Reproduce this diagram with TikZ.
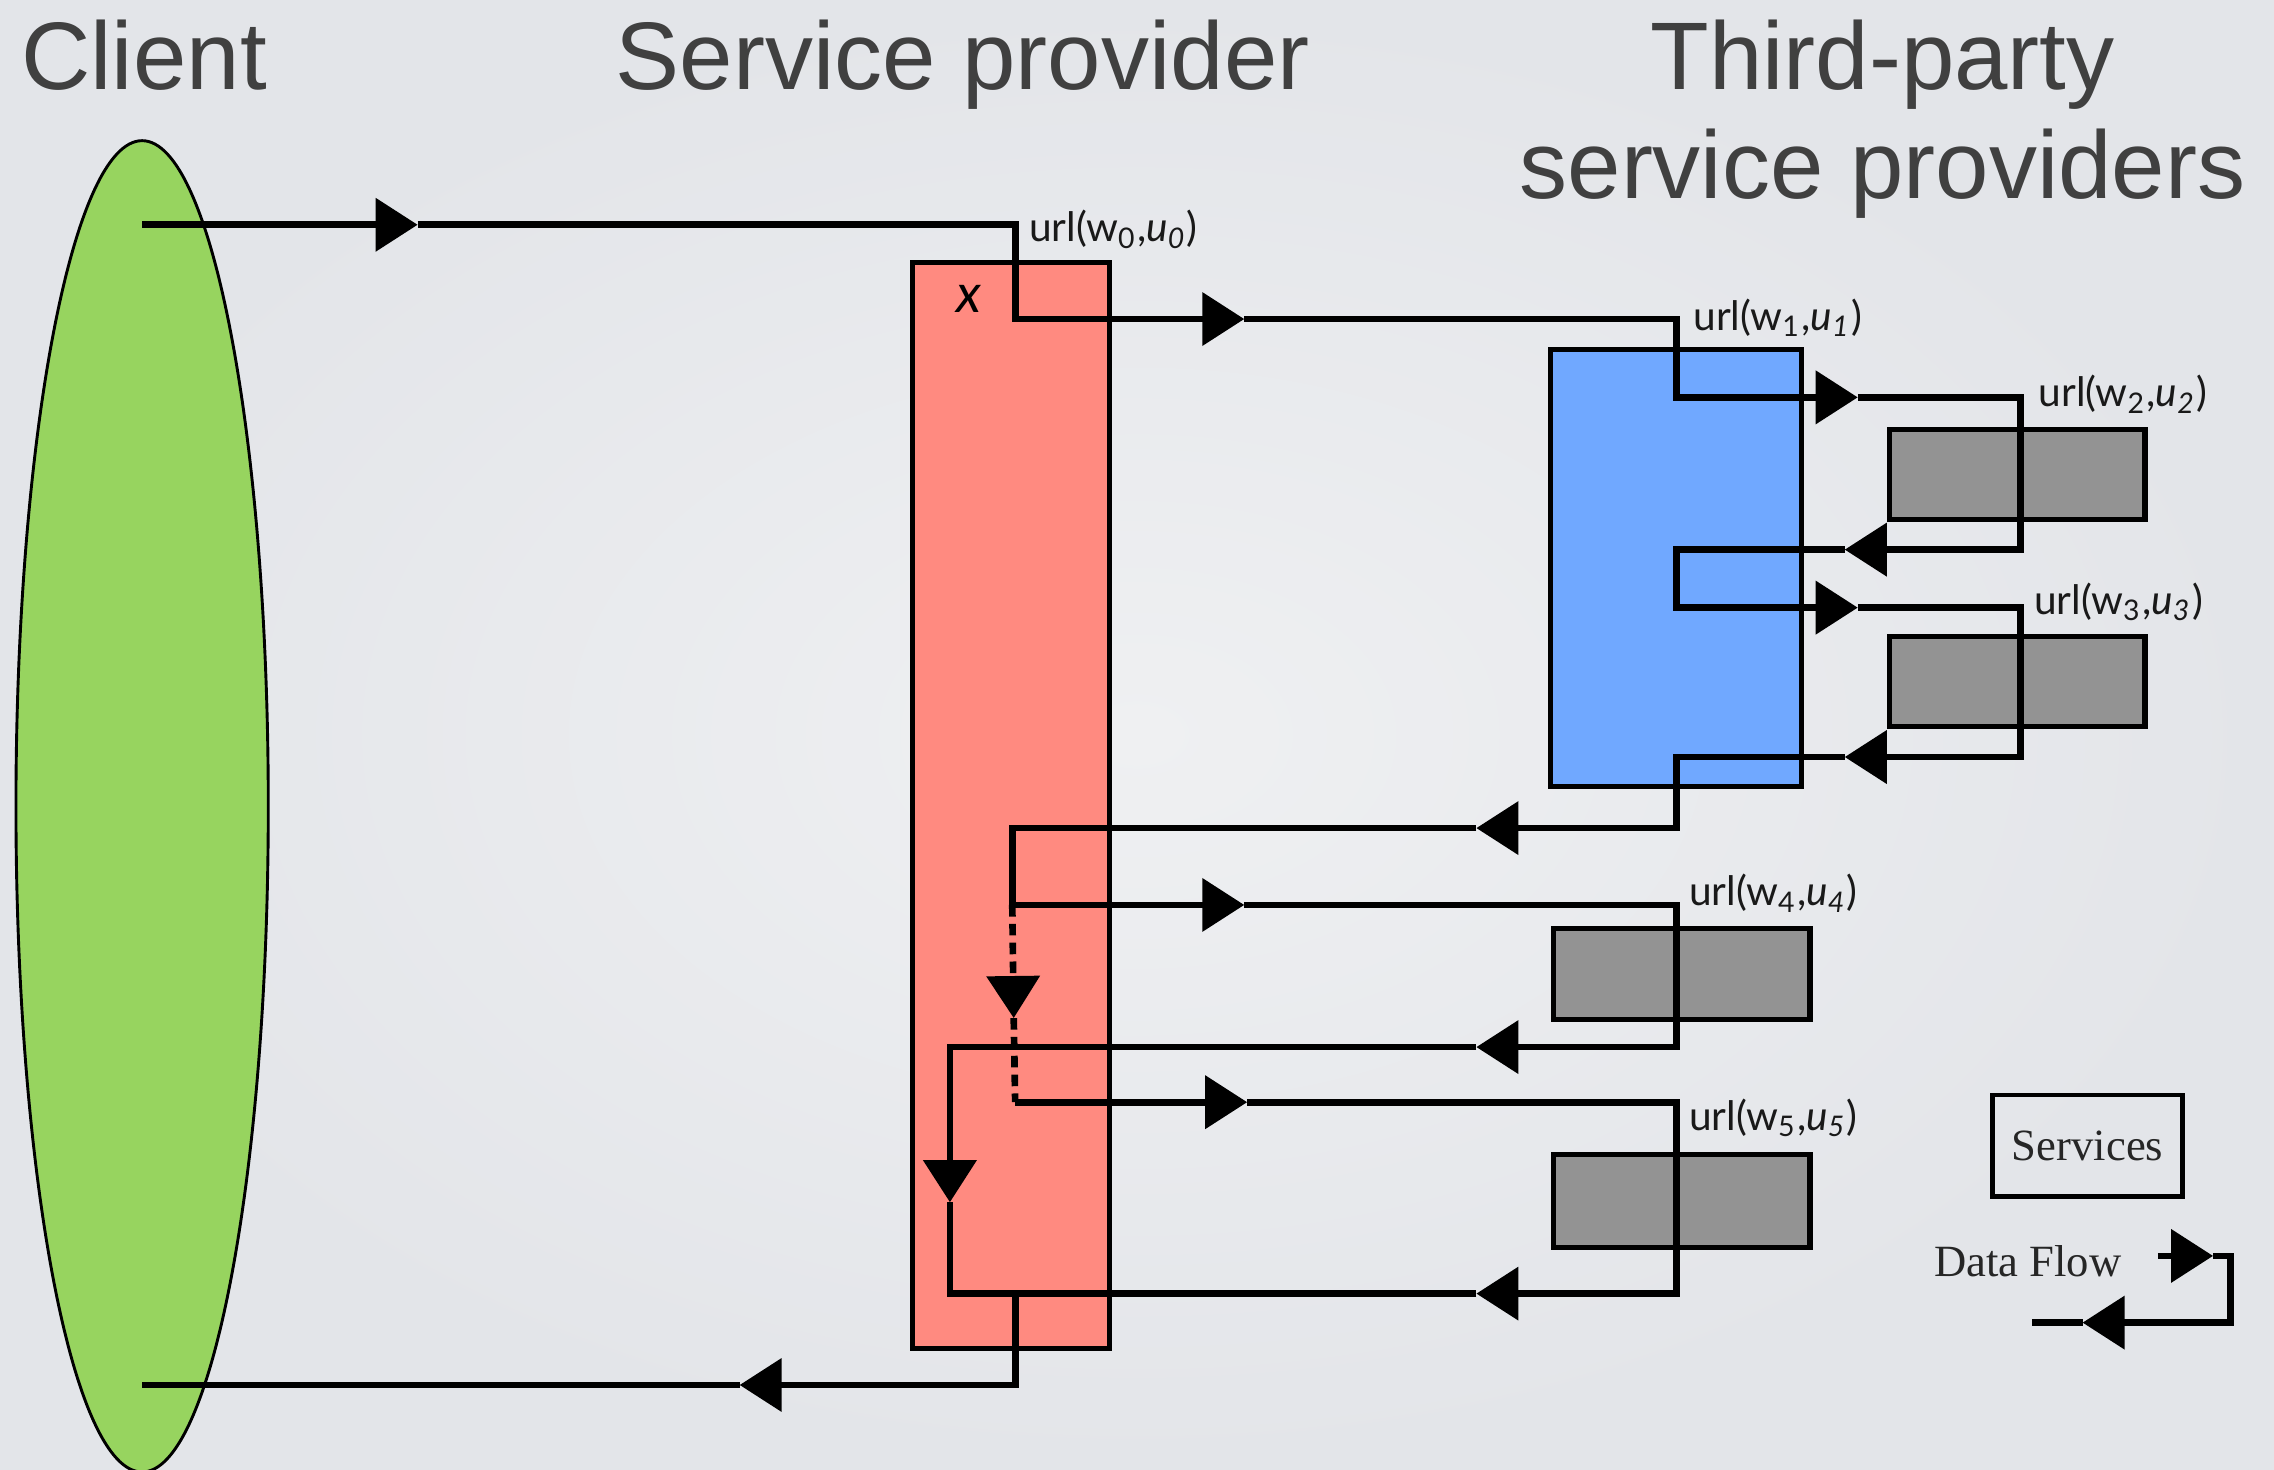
\documentclass[tikz,border=0pt]{standalone}
\usepackage{fontspec}
\setmainfont{Liberation Sans}
\newfontfamily\urlfont{Lato}
\newfontfamily\timesfont{Liberation Serif}
\usetikzlibrary{arrows.meta,shapes.geometric}
\definecolor{bgin}{RGB}{239,240,242}
\definecolor{bgout}{RGB}{227,229,233}
\definecolor{titlegrey}{RGB}{64,64,64}
\definecolor{clientgreen}{RGB}{151,212,95}
\definecolor{spred}{RGB}{255,138,128}
\definecolor{tpblue}{RGB}{112,168,255}
\definecolor{svcgrey}{RGB}{147,147,147}
\begin{document}
\begin{tikzpicture}[x=0.1mm,y=-0.1mm,
  flow/.style={line width=0.46mm, line join=miter, draw=black},
  fa/.style={flow, -{Triangle[length=2.9mm,width=3.6mm]}},
  dflow/.style={flow, dash pattern=on 0.8mm off 0.5mm},
  box/.style={draw=black, line width=0.36mm, rectangle, inner sep=0},
  title/.style={font=\fontsize{6.62mm}{8mm}\selectfont, text=titlegrey, inner sep=0},
  urllab/.style={font=\urlfont\fontsize{2.8mm}{3.2mm}\selectfont, text=black!90, anchor=west, inner sep=0},
  legend/.style={font=\timesfont\fontsize{3.08mm}{3.6mm}\selectfont, text=black!85, inner sep=0}
]
\useasboundingbox (0,0) rectangle (1568,1013);
\begin{scope}
\clip (0,0) rectangle (1568,1013);
\shade[inner color=bgin, outer color=bgout] (0,0) rectangle (1568,1013);

% titles
\node[title, anchor=base west] (tclient) at (14,62) {Client};
\node[title, anchor=base west] (tsp) at (424,62) {Service provider};
\node[title, anchor=base] (ttp1) at (1298,62) {Third-party};
\node[title, anchor=base] (ttp2) at (1298,137) {service providers};

% client
\node[draw=black, line width=0.2mm, fill=clientgreen, ellipse, inner sep=0,
      minimum width=17.4mm, minimum height=91.8mm] (client) at (98,556) {};

% service provider and third parties
\node[box, fill=spred, minimum width=13.6mm, minimum height=74.9mm] (sp) at (697,555.5) {};
\node[box, fill=tpblue, minimum width=17.3mm, minimum height=30.15mm] (tp) at (1155.5,391.75) {};
\node[box, fill=svcgrey, minimum width=17.6mm, minimum height=6.2mm] (s2) at (1391,327) {};
\node[box, fill=svcgrey, minimum width=17.6mm, minimum height=6.2mm] (s3) at (1391,470) {};
\node[box, fill=svcgrey, minimum width=17.7mm, minimum height=6.3mm] (s4) at (1159.5,671.5) {};
\node[box, fill=svcgrey, minimum width=17.7mm, minimum height=6.4mm] (s5) at (1159.5,828) {};

% coordinates of the flow
\coordinate (a0) at (98,155);
\coordinate (a1) at (288,155);
\coordinate (a2) at (700,155);
\coordinate (a3) at (700,220);
\coordinate (a4) at (858,220);
\coordinate (a5) at (1156,220);
\coordinate (a6) at (1156,274);
\coordinate (a7) at (1281,274);
\coordinate (a8) at (1393,274);
\coordinate (a9) at (1393,379);
\coordinate (a10) at (1272,379);
\coordinate (a11) at (1156,379);
\coordinate (a12) at (1156,419);
\coordinate (a13) at (1281,419);
\coordinate (a14) at (1393,419);
\coordinate (a15) at (1393,522);
\coordinate (a16) at (1272,522);
\coordinate (a17) at (1156,522);
\coordinate (a18) at (1156,571);
\coordinate (a19) at (1018,571);
\coordinate (a20) at (698,571);
\coordinate (a21) at (698,624);
\coordinate (a22) at (858,624);
\coordinate (a23) at (1156,624);
\coordinate (a24) at (1156,722);
\coordinate (a25) at (1018,722);
\coordinate (a26) at (655,722);
\coordinate (a27) at (655,829);
\coordinate (a28) at (655,892);
\coordinate (d1) at (699,702);
\coordinate (d2) at (700,760);
\coordinate (b1) at (860,760);
\coordinate (b2) at (1156,760);
\coordinate (b3) at (1156,892);
\coordinate (b4) at (1018,892);
\coordinate (b5) at (700,892);
\coordinate (b6) at (700,955);
\coordinate (b7) at (510,955);
\coordinate (b8) at (98,955);

% flow lines
\draw[fa] (a0) -- (a1);
\draw[fa] (a1) -- (a2) -- (a3) -- (a4);
\draw[fa] (a4) -- (a5) -- (a6) -- (a7);
\draw[fa] (a7) -- (a8) -- (a9) -- (a10);
\draw[fa] (a10) -- (a11) -- (a12) -- (a13);
\draw[fa] (a13) -- (a14) -- (a15) -- (a16);
\draw[fa] (a16) -- (a17) -- (a18) -- (a19);
\draw[fa] (a19) -- (a20) -- (a21) -- (a22);
\draw[fa] (a22) -- (a23) -- (a24) -- (a25);
\draw[fa] (a25) -- (a26) -- (a27);
\draw[flow] (a27) -- (a28) -- (b5);
\draw[dflow, -{Triangle[length=2.9mm,width=3.6mm]}] (a21) -- (d1);
\draw[dflow] (d1) -- (d2);
\draw[fa] (d2) -- (b1);
\draw[fa] (b1) -- (b2) -- (b3) -- (b4);
\draw[fa] (b4) -- (b5) -- (b6) -- (b7);
\draw[flow] (b7) -- (b8);

% labels
\node[font=\urlfont\itshape\fontsize{3.7mm}{4mm}\selectfont, inner sep=0] (xlab) at (668,206) {x};
\node[urllab] (l0) at (709,158) {url(w\textsubscript{0},\textit{u\textsubscript{0}})};
\node[urllab] (l1) at (1167,219) {url(w\textsubscript{1},\textit{u\textsubscript{1}})};
\node[urllab] (l2) at (1405,272) {url(w\textsubscript{2},\textit{u\textsubscript{2}})};
\node[urllab] (l3) at (1402,415) {url(w\textsubscript{3},\textit{u\textsubscript{3}})};
\node[urllab] (l4) at (1164,616) {url(w\textsubscript{4},\textit{u\textsubscript{4}})};
\node[urllab] (l5) at (1164,771) {url(w\textsubscript{5},\textit{u\textsubscript{5}})};

% legend
\node[draw=black, line width=0.3mm, minimum width=13.1mm, minimum height=7mm, inner sep=0] (legbox) at (1439.5,790) {};
\node[legend] (legsvc) at (legbox.center) {Services};
\node[legend, anchor=base west] (legflow) at (1333,880) {Data Flow};
\coordinate (e0) at (1488,866);
\coordinate (e1) at (1526,866);
\coordinate (e2) at (1538,866);
\coordinate (e3) at (1538,912);
\coordinate (e4) at (1436,912);
\coordinate (e5) at (1401,912);
\draw[fa] (e0) -- (e1);
\draw[fa] (e1) -- (e2) -- (e3) -- (e4);
\draw[flow] (e4) -- (e5);
\end{scope}
\end{tikzpicture}
\end{document}
